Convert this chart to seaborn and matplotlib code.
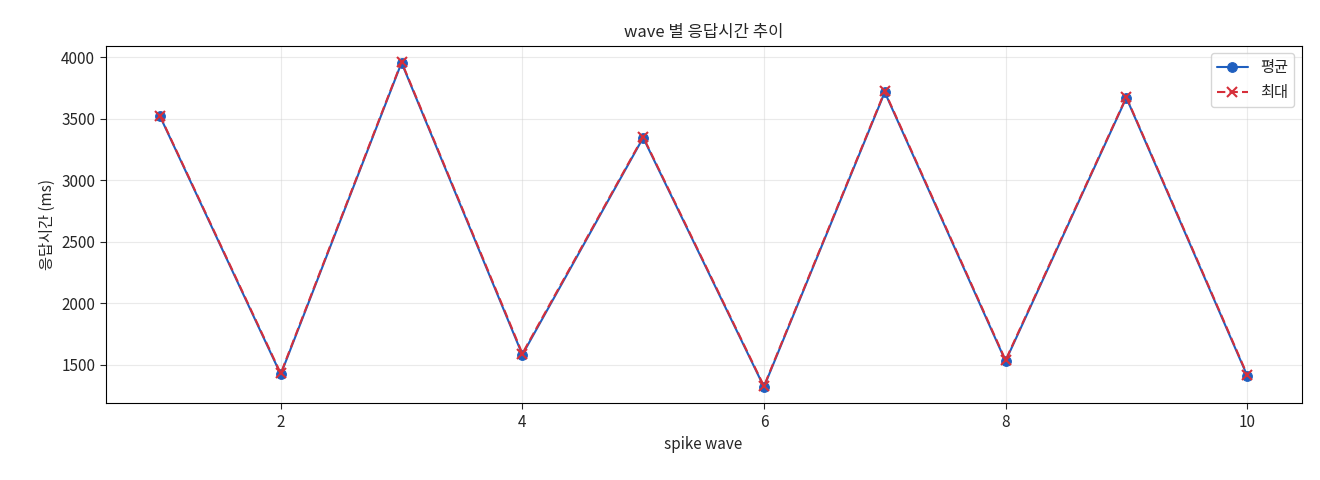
import matplotlib
matplotlib.use("Agg")
import matplotlib.pyplot as plt
import seaborn as sns
import pandas as pd

sns.set_style("whitegrid")
plt.rcParams['font.family'] = ['Noto Sans CJK KR', 'DejaVu Sans']
plt.rcParams['font.size'] = 11

waves = [1, 2, 3, 4, 5, 6, 7, 8, 9, 10]
avg_ms = [3520, 1420, 3955, 1580, 3345, 1318, 3715, 1528, 3670, 1410]
max_ms = [3525, 1428, 3962, 1590, 3352, 1325, 3722, 1536, 3676, 1418]

df = pd.DataFrame({"wave": waves, "avg": avg_ms, "max": max_ms})

fig, ax = plt.subplots(figsize=(13.2, 4.8), dpi=100)
sns.lineplot(data=df, x="wave", y="avg", ax=ax, color="#1f5fbf", marker="o",
             markersize=7, markeredgecolor="#1f5fbf", linewidth=1.5)
sns.lineplot(data=df, x="wave", y="max", ax=ax, color="#d62f3a", marker="x",
             markersize=7, markeredgecolor="#d62f3a", markeredgewidth=1.5,
             linewidth=1.5, linestyle="--")
lines = ax.get_lines()
lines[1].set_dashes([4, 2])
ax.legend(lines[:2], ["평균", "최대"], loc="upper right", frameon=True, fontsize=11)

ax.set_title("wave 별 응답시간 추이", fontsize=12)
ax.set_xlabel("spike wave", fontsize=11)
ax.set_ylabel("응답시간 (ms)", fontsize=11)
for s in ax.spines.values():
    s.set_color("black")
    s.set_linewidth(0.8)
ax.grid(True, alpha=0.4)
ax.tick_params(left=True, bottom=True, length=4, labelsize=11)
fig.subplots_adjust(left=0.08, right=0.986, top=0.905, bottom=0.16)
fig.savefig("out.png", dpi=100)
